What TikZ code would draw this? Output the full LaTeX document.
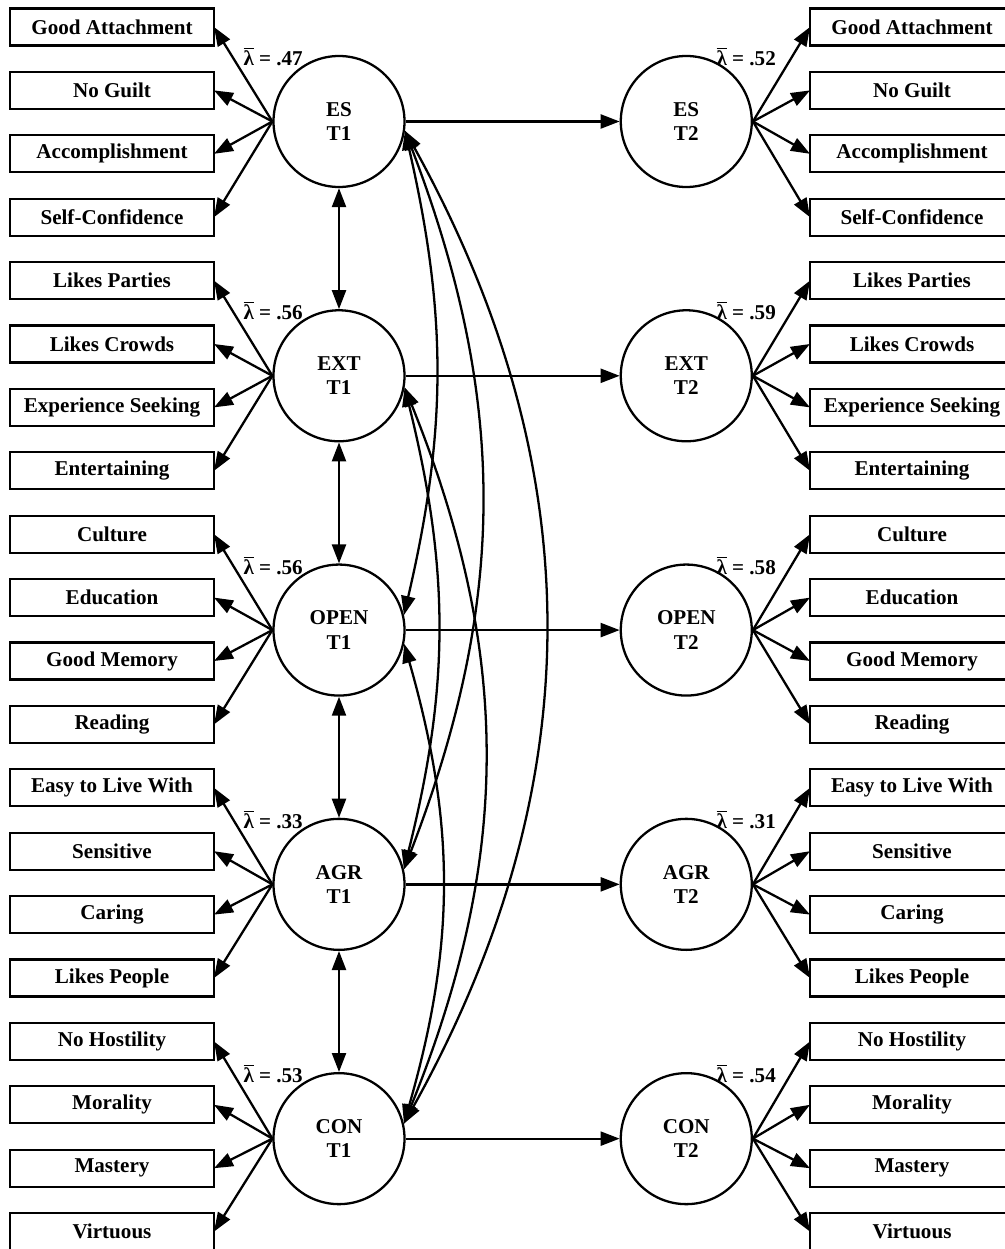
\documentclass[tikz,border=0pt]{standalone}
\usepackage{fontspec}
\setmainfont{Liberation Serif}
\usetikzlibrary{arrows.meta,positioning}

\begin{document}
\begin{tikzpicture}[node distance=0.528cm, font=\fontsize{12}{14}\selectfont\bfseries, line width=1.3pt]
\tikzstyle{lat} = [circle, draw, minimum size=2.62cm, inner sep=0pt, align=center]
\tikzstyle{ind} = [rectangle, draw, minimum width=4.08cm, minimum height=0.74cm, inner sep=0pt, outer sep=0pt]
\tikzstyle{lam} = [inner sep=1pt, yshift=-0.1cm]
\tikzstyle{arrow} = [-{Triangle[length=3.8mm, width=2.8mm]}]
\tikzstyle{cov} = [{Triangle[length=3.8mm, width=2.8mm]}-{Triangle[length=3.8mm, width=2.8mm]}]
\clip (0,0) rectangle (20.1,-24.98);

% factors at T1 and T2
\node[lat] (es1) at (6.78,-2.43) {ES\\T1};
\node[lat, below=2.42cm of es1] (ext1) {EXT\\T1};
\node[lat, below=2.42cm of ext1] (open1) {OPEN\\T1};
\node[lat, below=2.42cm of open1] (agr1) {AGR\\T1};
\node[lat, below=2.42cm of agr1] (con1) {CON\\T1};
\node[lat, right=4.28cm of es1] (es2) {ES\\T2};
\node[lat, right=4.28cm of ext1] (ext2) {EXT\\T2};
\node[lat, right=4.28cm of open1] (open2) {OPEN\\T2};
\node[lat, right=4.28cm of agr1] (agr2) {AGR\\T2};
\node[lat, right=4.28cm of con1] (con2) {CON\\T2};

% indicators T1
\node[ind] (ga1) at (2.24,-0.54) {Good Attachment};
\node[ind, below=of ga1] (ng1) {No Guilt};
\node[ind, below=of ng1] (ac1) {Accomplishment};
\node[ind, below=of ac1] (sc1) {Self-Confidence};
\node[ind, below=of sc1] (lp1) {Likes Parties};
\node[ind, below=of lp1] (lc1) {Likes Crowds};
\node[ind, below=of lc1] (xs1) {Experience Seeking};
\node[ind, below=of xs1] (en1) {Entertaining};
\node[ind, below=of en1] (cu1) {Culture};
\node[ind, below=of cu1] (ed1) {Education};
\node[ind, below=of ed1] (gm1) {Good Memory};
\node[ind, below=of gm1] (rd1) {Reading};
\node[ind, below=of rd1] (el1) {Easy to Live With};
\node[ind, below=of el1] (se1) {Sensitive};
\node[ind, below=of se1] (ca1) {Caring};
\node[ind, below=of ca1] (lk1) {Likes People};
\node[ind, below=of lk1] (nh1) {No Hostility};
\node[ind, below=of nh1] (mo1) {Morality};
\node[ind, below=of mo1] (ma1) {Mastery};
\node[ind, below=of ma1] (vi1) {Virtuous};

% indicators T2
\node[ind] (ga2) at (18.24,-0.54) {Good Attachment};
\node[ind, below=of ga2] (ng2) {No Guilt};
\node[ind, below=of ng2] (ac2) {Accomplishment};
\node[ind, below=of ac2] (sc2) {Self-Confidence};
\node[ind, below=of sc2] (lp2) {Likes Parties};
\node[ind, below=of lp2] (lc2) {Likes Crowds};
\node[ind, below=of lc2] (xs2) {Experience Seeking};
\node[ind, below=of xs2] (en2) {Entertaining};
\node[ind, below=of en2] (cu2) {Culture};
\node[ind, below=of cu2] (ed2) {Education};
\node[ind, below=of ed2] (gm2) {Good Memory};
\node[ind, below=of gm2] (rd2) {Reading};
\node[ind, below=of rd2] (el2) {Easy to Live With};
\node[ind, below=of el2] (se2) {Sensitive};
\node[ind, below=of se2] (ca2) {Caring};
\node[ind, below=of ca2] (lk2) {Likes People};
\node[ind, below=of lk2] (nh2) {No Hostility};
\node[ind, below=of nh2] (mo2) {Morality};
\node[ind, below=of mo2] (ma2) {Mastery};
\node[ind, below=of ma2] (vi2) {Virtuous};

% mean loadings
\node[lam, anchor=south east] (lames1) at (es1.120) {$\overline{\mbox{λ}}$ = .47};
\node[lam, anchor=south east] (lamext1) at (ext1.120) {$\overline{\mbox{λ}}$ = .56};
\node[lam, anchor=south east] (lamopen1) at (open1.120) {$\overline{\mbox{λ}}$ = .56};
\node[lam, anchor=south east] (lamagr1) at (agr1.120) {$\overline{\mbox{λ}}$ = .33};
\node[lam, anchor=south east] (lamcon1) at (con1.120) {$\overline{\mbox{λ}}$ = .53};
\node[lam, anchor=south west, xshift=-0.12cm] (lames2) at (es2.60) {$\overline{\mbox{λ}}$ = .52};
\node[lam, anchor=south west, xshift=-0.12cm] (lamext2) at (ext2.60) {$\overline{\mbox{λ}}$ = .59};
\node[lam, anchor=south west, xshift=-0.12cm] (lamopen2) at (open2.60) {$\overline{\mbox{λ}}$ = .58};
\node[lam, anchor=south west, xshift=-0.12cm] (lamagr2) at (agr2.60) {$\overline{\mbox{λ}}$ = .31};
\node[lam, anchor=south west, xshift=-0.12cm] (lamcon2) at (con2.60) {$\overline{\mbox{λ}}$ = .54};

% loadings
\path (es1.west) edge[arrow] (ga1.east) edge[arrow] (ng1.east) edge[arrow] (ac1.east) edge[arrow] (sc1.east);
\path (ext1.west) edge[arrow] (lp1.east) edge[arrow] (lc1.east) edge[arrow] (xs1.east) edge[arrow] (en1.east);
\path (open1.west) edge[arrow] (cu1.east) edge[arrow] (ed1.east) edge[arrow] (gm1.east) edge[arrow] (rd1.east);
\path (agr1.west) edge[arrow] (el1.east) edge[arrow] (se1.east) edge[arrow] (ca1.east) edge[arrow] (lk1.east);
\path (con1.west) edge[arrow] (nh1.east) edge[arrow] (mo1.east) edge[arrow] (ma1.east) edge[arrow] (vi1.east);
\path (es2.east) edge[arrow] (ga2.west) edge[arrow] (ng2.west) edge[arrow] (ac2.west) edge[arrow] (sc2.west);
\path (ext2.east) edge[arrow] (lp2.west) edge[arrow] (lc2.west) edge[arrow] (xs2.west) edge[arrow] (en2.west);
\path (open2.east) edge[arrow] (cu2.west) edge[arrow] (ed2.west) edge[arrow] (gm2.west) edge[arrow] (rd2.west);
\path (agr2.east) edge[arrow] (el2.west) edge[arrow] (se2.west) edge[arrow] (ca2.west) edge[arrow] (lk2.west);
\path (con2.east) edge[arrow] (nh2.west) edge[arrow] (mo2.west) edge[arrow] (ma2.west) edge[arrow] (vi2.west);

% stability paths
\draw[arrow] (es1) -- (es2);
\draw[arrow] (ext1) -- (ext2);
\draw[arrow] (open1) -- (open2);
\draw[arrow] (agr1) -- (agr2);
\draw[arrow] (con1) -- (con2);

% correlations at T1
\draw[cov] (es1) -- (ext1);
\draw[cov] (ext1) -- (open1);
\draw[cov] (open1) -- (agr1);
\draw[cov] (agr1) -- (con1);
\draw[cov] (es1.-8) to[bend left=13] (open1.13);
\draw[cov] (es1.-8) to[bend left=21] (agr1.13);
\draw[cov] (es1.-8) to[bend left=29] (con1.13);
\draw[cov] (ext1.-10) to[bend left=14] (agr1.13);
\draw[cov] (ext1.-10) to[bend left=22] (con1.13);
\draw[cov] (open1.-12) to[bend left=16] (con1.13);
\end{tikzpicture}
\end{document}
